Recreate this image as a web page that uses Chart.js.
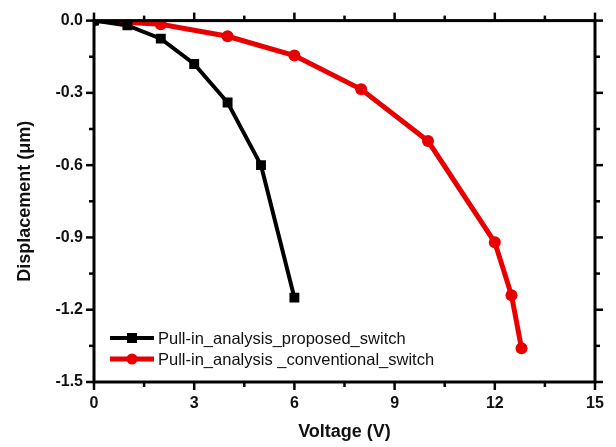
<!DOCTYPE html>
<html>
<head>
<meta charset="utf-8">
<script src="https://cdn.jsdelivr.net/npm/chart.js@4/dist/chart.umd.min.js"></script>
<style>
  html, body { margin: 0; padding: 0; background: #ffffff; }
  #wrap { width: 616px; height: 447px; position: relative; }
</style>
</head>
<body>
<div id="wrap"><canvas id="c" width="616" height="447"></canvas></div>
<script>
// Pull-in analysis: tip displacement vs. applied voltage
const proposedVoltage = [0, 1, 2, 3, 4, 5, 6];
const proposedDisp = [0, -0.02, -0.075, -0.18, -0.34, -0.60, -1.15];
const conventionalVoltage = [0, 2, 4, 6, 8, 10, 12, 12.5, 12.8];
const conventionalDisp = [0, -0.015, -0.065, -0.145, -0.285, -0.50, -0.92, -1.14, -1.36];
const seriesNames = ['Pull-in_analysis_proposed_switch', 'Pull-in_analysis _conventional_switch'];
const xTicks = [0, 3, 6, 9, 12, 15];
const yTicks = [0.0, -0.3, -0.6, -0.9, -1.2, -1.5];

const RED = '#e80000';
const toPoints = (xs, ys) => xs.map((x, i) => ({ x: x, y: ys[i] }));

// Frame on all four sides with outward major/minor ticks
const framePlugin = {
  id: 'frame',
  afterDatasetsDraw(chart) {
    const { ctx, chartArea: a, scales } = chart;
    const xs = scales.x, ys = scales.y;
    ctx.save();
    ctx.strokeStyle = '#000';
    ctx.lineCap = 'butt';
    ctx.lineWidth = 2.5;
    const tick = (x1, y1, x2, y2) => { ctx.beginPath(); ctx.moveTo(x1, y1); ctx.lineTo(x2, y2); ctx.stroke(); };
    xs.ticks.forEach(t => {
      const major = xTicks.some(v => Math.abs(v - t.value) < 1e-6);
      const len = major ? 8 : 5;
      const px = xs.getPixelForValue(t.value);
      tick(px, a.bottom, px, a.bottom + len);
      tick(px, a.top, px, a.top - len);
    });
    ys.ticks.forEach(t => {
      const major = yTicks.some(v => Math.abs(v - t.value) < 1e-6);
      const len = major ? 8 : 5;
      const py = ys.getPixelForValue(t.value);
      tick(a.left, py, a.left - len, py);
      tick(a.right, py, a.right + len, py);
    });
    ctx.lineWidth = 3;
    ctx.strokeRect(a.left, a.top, a.right - a.left, a.bottom - a.top);
    ctx.restore();
  }
};

// Legend placed inside the plot, lower left
const insideLegend = {
  id: 'insideLegend',
  afterDraw(chart) {
    const { ctx } = chart;
    const x0 = 110, x1 = 154, tx = 158;
    const rows = [338, 359];
    ctx.save();
    chart.data.datasets.forEach((ds, i) => {
      const y = rows[i];
      ctx.strokeStyle = ds.borderColor;
      ctx.lineWidth = ds.borderWidth;
      ctx.beginPath(); ctx.moveTo(x0, y); ctx.lineTo(x1, y); ctx.stroke();
      ctx.fillStyle = ds.pointBackgroundColor;
      const mx = (x0 + x1) / 2;
      if (ds.pointStyle === 'rect') {
        ctx.fillRect(mx - 5, y - 5, 10, 10);
      } else {
        ctx.beginPath(); ctx.arc(mx, y, 5.5, 0, Math.PI * 2); ctx.fill();
      }
      ctx.fillStyle = '#111';
      ctx.font = '16.5px "Liberation Sans", Arial, sans-serif';
      ctx.textBaseline = 'middle';
      ctx.textAlign = 'left';
      ctx.fillText(ds.label, tx, y + 1);
    });
    ctx.restore();
  }
};

const tickFont = { family: '"Liberation Sans", Arial, sans-serif', size: 16, weight: 'bold' };
const titleFont = { family: '"Liberation Sans", Arial, sans-serif', size: 18, weight: 'bold' };

new Chart(document.getElementById('c'), {
  type: 'scatter',
  data: {
    datasets: [
      {
        label: seriesNames[0],
        data: toPoints(proposedVoltage, proposedDisp),
        showLine: true,
        borderColor: '#000',
        backgroundColor: '#000',
        pointBackgroundColor: '#000',
        pointBorderColor: '#000',
        borderWidth: 4,
        pointStyle: 'rect',
        pointRadius: 7,
        pointBorderWidth: 0,
        tension: 0
      },
      {
        label: seriesNames[1],
        data: toPoints(conventionalVoltage, conventionalDisp),
        showLine: true,
        borderColor: RED,
        backgroundColor: RED,
        pointBackgroundColor: RED,
        pointBorderColor: RED,
        borderWidth: 5,
        pointStyle: 'circle',
        pointRadius: 6,
        pointBorderWidth: 0,
        tension: 0
      }
    ]
  },
  options: {
    responsive: false,
    animation: false,
    layout: { padding: { left: 0, right: 21, top: 16, bottom: 0 } },
    plugins: { legend: { display: false }, tooltip: { enabled: false } },
    scales: {
      x: {
        type: 'linear',
        min: 0, max: 15,
        grid: { display: false, drawTicks: false },
        border: { display: false },
        ticks: {
          stepSize: 1.5,
          padding: 12,
          color: '#111',
          font: tickFont,
          maxRotation: 0,
          autoSkip: false,
          callback: (v) => xTicks.some(t => Math.abs(t - v) < 1e-6) ? String(Math.round(v)) : ''
        },
        title: { display: true, text: 'Voltage (V)', color: '#111', font: titleFont, padding: { top: 0, bottom: 4 } },
        afterFit: (s) => { s.height = 65; }
      },
      y: {
        type: 'linear',
        min: -1.5, max: 0,
        grid: { display: false, drawTicks: false },
        border: { display: false },
        ticks: {
          stepSize: 0.15,
          padding: 11,
          color: '#111',
          font: tickFont,
          autoSkip: false,
          callback: (v) => {
            const hit = yTicks.find(t => Math.abs(t - v) < 1e-6);
            return hit === undefined ? '' : (Math.abs(hit) < 1e-9 ? '0.0' : hit.toFixed(1));
          }
        },
        title: { display: true, text: 'Displacement (\u03bcm)', color: '#111', font: titleFont, padding: { top: 14, bottom: 0 } },
        afterFit: (s) => { s.width = 94; }
      }
    }
  },
  plugins: [framePlugin, insideLegend]
});
</script>
</body>
</html>
